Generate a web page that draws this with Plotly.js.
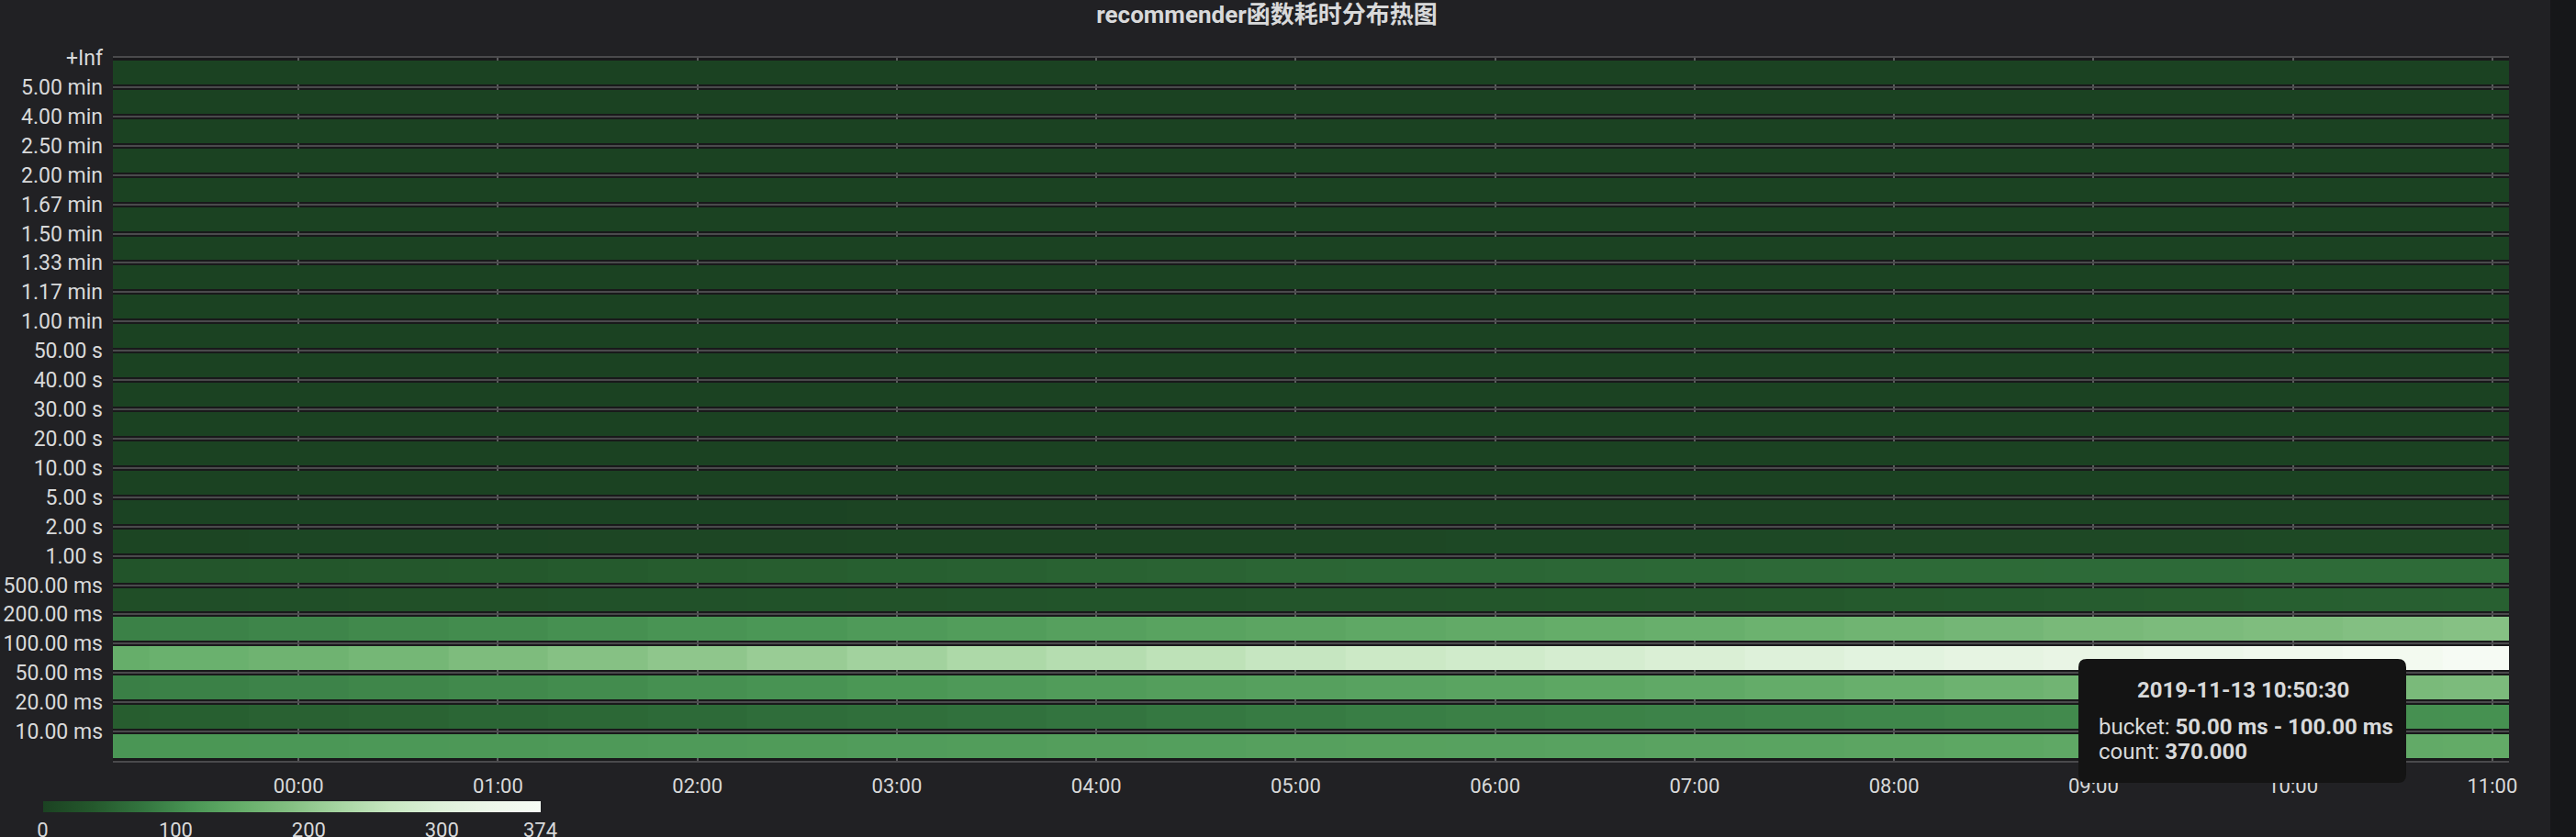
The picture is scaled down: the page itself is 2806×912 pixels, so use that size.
<!DOCTYPE html>
<html>
<head>
<meta charset="utf-8">
<script src="https://cdn.plot.ly/plotly-3.0.1.min.js"></script>
<style>
  html, body { margin: 0; padding: 0; background: #212124; }
  #chart { width: 2806px; height: 912px; }
</style>
</head>
<body>
<div id="chart"></div>
<script>
// ---------------- DATA ----------------
const chartTitle = 'recommender函数耗时分布热图';

// column times (30-minute buckets)
const times = [
  '2019-11-12 23:00', '2019-11-12 23:30',
  '2019-11-13 00:00', '2019-11-13 00:30', '2019-11-13 01:00', '2019-11-13 01:30',
  '2019-11-13 02:00', '2019-11-13 02:30', '2019-11-13 03:00', '2019-11-13 03:30',
  '2019-11-13 04:00', '2019-11-13 04:30', '2019-11-13 05:00', '2019-11-13 05:30',
  '2019-11-13 06:00', '2019-11-13 06:30', '2019-11-13 07:00', '2019-11-13 07:30',
  '2019-11-13 08:00', '2019-11-13 08:30', '2019-11-13 09:00', '2019-11-13 09:30',
  '2019-11-13 10:00', '2019-11-13 10:30', '2019-11-13 11:00'
];

// bucket upper-bound labels, bottom to top
const bucketLabels = [
  '10.00 ms', '20.00 ms', '50.00 ms', '100.00 ms', '200.00 ms', '500.00 ms',
  '1.00 s', '2.00 s', '5.00 s', '10.00 s', '20.00 s', '30.00 s', '40.00 s', '50.00 s',
  '1.00 min', '1.17 min', '1.33 min', '1.50 min', '1.67 min', '2.00 min', '2.50 min',
  '4.00 min', '5.00 min', '+Inf'
];

// counts per bucket (bottom to top), one value per time column
const cnt_0_10ms    = [112,113,114,115,116,117,119,120,122,123,125,126,128,129,130,131,133,134,136,138,140,141,143,144,145];
const cnt_10_20ms   = [44,46,49,52,55,58,61,64,67,70,74,78,82,85,87,89,91,93,95,97,99,101,103,105,106];
const cnt_20_50ms   = [86,88,91,94,97,101,105,109,113,117,121,125,128,131,134,138,142,147,152,158,163,167,171,174,176];
const cnt_50_100ms  = [150,155,160,168,178,188,198,208,218,230,240,250,260,268,276,284,292,300,310,318,326,336,346,358,370];
const cnt_100_200ms = [88,90,93,97,101,105,110,114,119,123,128,132,136,140,144,148,152,157,162,167,172,176,180,185,188];
const cnt_200_500ms = [20,21,22,23,24,25,26,27,28,29,30,31,32,33,34,35,36,38,40,41,43,44,46,47,48];
const cnt_500ms_1s  = [30,32,34,36,38,40,42,44,46,48,50,52,54,55,56,57,58,59,60,60,61,61,62,62,62];
const cnt_1s_2s     = [5,5,6,6,6,7,7,7,8,8,8,9,9,9,10,10,10,10,11,11,11,11,12,12,12];
const cnt_2s_5s     = [2,2,2,2,2,2,2,2,3,3,3,3,3,3,3,3,3,3,3,3,3,3,3,3,3];
const cnt_5s_10s    = [0,0,0,0,0,0,0,0,0,0,0,0,0,0,0,0,0,0,0,0,0,0,0,0,0];
const cnt_10s_20s   = [0,0,0,0,0,0,0,0,0,0,0,0,0,0,0,0,0,0,0,0,0,0,0,0,0];
const cnt_20s_30s   = [0,0,0,0,0,0,0,0,0,0,0,0,0,0,0,0,0,0,0,0,0,0,0,0,0];
const cnt_30s_40s   = [0,0,0,0,0,0,0,0,0,0,0,0,0,0,0,0,0,0,0,0,0,0,0,0,0];
const cnt_40s_50s   = [0,0,0,0,0,0,0,0,0,0,0,0,0,0,0,0,0,0,0,0,0,0,0,0,0];
const cnt_50s_1m    = [0,0,0,0,0,0,0,0,0,0,0,0,0,0,0,0,0,0,0,0,0,0,0,0,0];
const cnt_1m_117m   = [0,0,0,0,0,0,0,0,0,0,0,0,0,0,0,0,0,0,0,0,0,0,0,0,0];
const cnt_117m_133m = [0,0,0,0,0,0,0,0,0,0,0,0,0,0,0,0,0,0,0,0,0,0,0,0,0];
const cnt_133m_150m = [0,0,0,0,0,0,0,0,0,0,0,0,0,0,0,0,0,0,0,0,0,0,0,0,0];
const cnt_150m_167m = [0,0,0,0,0,0,0,0,0,0,0,0,0,0,0,0,0,0,0,0,0,0,0,0,0];
const cnt_167m_2m   = [0,0,0,0,0,0,0,0,0,0,0,0,0,0,0,0,0,0,0,0,0,0,0,0,0];
const cnt_2m_250m   = [0,0,0,0,0,0,0,0,0,0,0,0,0,0,0,0,0,0,0,0,0,0,0,0,0];
const cnt_250m_4m   = [0,0,0,0,0,0,0,0,0,0,0,0,0,0,0,0,0,0,0,0,0,0,0,0,0];
const cnt_4m_5m     = [0,0,0,0,0,0,0,0,0,0,0,0,0,0,0,0,0,0,0,0,0,0,0,0,0];
const cnt_5m_inf    = [0,0,0,0,0,0,0,0,0,0,0,0,0,0,0,0,0,0,0,0,0,0,0,0,0];

const hourTicks = [
  '2019-11-13 00:00', '2019-11-13 01:00', '2019-11-13 02:00', '2019-11-13 03:00',
  '2019-11-13 04:00', '2019-11-13 05:00', '2019-11-13 06:00', '2019-11-13 07:00',
  '2019-11-13 08:00', '2019-11-13 09:00', '2019-11-13 10:00', '2019-11-13 11:00'
];
const colorTicks = [0, 100, 200, 300, 374];
const countMax = 374;

const tipTime = '2019-11-13 10:50:30';
const tipBucket = '50.00 ms - 100.00 ms';
const tipCount = '370.000';

// ---------------- BUILD ----------------
const rows = [
  cnt_0_10ms, cnt_10_20ms, cnt_20_50ms, cnt_50_100ms, cnt_100_200ms, cnt_200_500ms,
  cnt_500ms_1s, cnt_1s_2s, cnt_2s_5s, cnt_5s_10s, cnt_10s_20s, cnt_20s_30s, cnt_30s_40s,
  cnt_40s_50s, cnt_50s_1m, cnt_1m_117m, cnt_117m_133m, cnt_133m_150m, cnt_150m_167m,
  cnt_167m_2m, cnt_2m_250m, cnt_250m_4m, cnt_4m_5m, cnt_5m_inf
];
const yCenters = rows.map((r, i) => i + 0.5);

const W = 2806, H = 912;
const M = { l: 123, r: 73, t: 63, b: 83 };
const PW = W - M.l - M.r, PH = H - M.t - M.b;
const fx = px => (px - M.l) / PW;
const fy = py => (H - M.b - py) / PH;

function roundRectPath(x0, y0, x1, y1, r) {
  const p = (x, y) => fx(x).toFixed(6) + ',' + fy(y).toFixed(6);
  return 'M' + p(x0 + r, y0) + ' L' + p(x1 - r, y0) + ' Q' + p(x1, y0) + ' ' + p(x1, y0 + r) +
    ' L' + p(x1, y1 - r) + ' Q' + p(x1, y1) + ' ' + p(x1 - r, y1) +
    ' L' + p(x0 + r, y1) + ' Q' + p(x0, y1) + ' ' + p(x0, y1 - r) +
    ' L' + p(x0, y0 + r) + ' Q' + p(x0, y0) + ' ' + p(x0 + r, y0) + ' Z';
}

const textColor = '#d8d9da';
const fontFam = 'Roboto, "Noto Sans CJK SC", sans-serif';

const colorscale = [
  [0.0, '#1b4222'], [0.1, '#24582c'], [0.2, '#33753f'], [0.3, '#4a9655'],
  [0.4, '#66ae6a'], [0.5, '#85c083'], [0.6, '#a8d6a3'], [0.7, '#c8e7c2'],
  [0.8, '#def1da'], [0.9, '#edf7ea'], [1.0, '#f7fcf5']
];

const trace = {
  type: 'heatmap',
  x: times,
  y: yCenters,
  z: rows,
  zmin: 0,
  zmax: countMax,
  colorscale: colorscale,
  ygap: 6,
  hoverinfo: 'skip',
  colorbar: {
    orientation: 'h',
    xref: 'container', yref: 'container',
    x: 50 / W, xanchor: 'left',
    y: 1 - 873 / H, yanchor: 'top',
    len: 542, lenmode: 'pixels',
    thickness: 12,
    xpad: 0, ypad: 0,
    outlinewidth: 0,
    ticks: '',
    tickvals: colorTicks,
    ticktext: colorTicks.map(String),
    tickfont: { family: fontFam, size: 22, color: textColor }
  }
};

const layout = {
  width: W, height: H,
  margin: M,
  paper_bgcolor: '#212124',
  plot_bgcolor: '#19191b',
  showlegend: false,
  title: {
    text: '<b>' + chartTitle + '</b>',
    xref: 'container', yref: 'container',
    x: 1380 / W, xanchor: 'center',
    y: 1 - 16 / H, yanchor: 'middle',
    font: { family: fontFam, size: 26, color: textColor }
  },
  xaxis: {
    type: 'date',
    range: ['2019-11-12 23:04:10', '2019-11-13 11:05:00'],
    tickvals: hourTicks,
    tickformat: '%H:%M',
    ticks: '',
    ticklabelstandoff: 7,
    showgrid: true, gridcolor: '#5c5c5e', gridwidth: 2,
    showline: true, mirror: true, linecolor: '#4a4a4c', linewidth: 2,
    zeroline: false,
    tickfont: { family: fontFam, size: 22, color: textColor }
  },
  yaxis: {
    range: [0, 24],
    tickvals: bucketLabels.map((l, i) => i + 1),
    ticktext: bucketLabels,
    ticks: '',
    ticklabelstandoff: 10,
    showgrid: true, gridcolor: '#4a4a4c', gridwidth: 2,
    zeroline: false, showline: false,
    tickfont: { family: fontFam, size: 23, color: textColor }
  },
  shapes: [
    { type: 'rect', xref: 'paper', yref: 'paper', layer: 'below',
      x0: fx(2778), x1: fx(2830), y0: fy(940), y1: fy(-20),
      fillcolor: '#161719', line: { width: 0 } },
    { type: 'path', xref: 'paper', yref: 'paper', layer: 'above',
      path: roundRectPath(2264, 718, 2621, 853, 9),
      fillcolor: '#141414', line: { width: 0 } }
  ],
  annotations: [
    { xref: 'paper', yref: 'paper', x: fx(2443), y: fy(752), xanchor: 'center', yanchor: 'middle',
      showarrow: false, text: '<b>' + tipTime + '</b>',
      font: { family: fontFam, size: 24, color: textColor } },
    { xref: 'paper', yref: 'paper', x: fx(2284), y: fy(792), xanchor: 'left', yanchor: 'middle',
      showarrow: false, text: 'bucket: <b>' + tipBucket + '</b>',
      font: { family: fontFam, size: 24, color: textColor } },
    { xref: 'paper', yref: 'paper', x: fx(2284), y: fy(819), xanchor: 'left', yanchor: 'middle',
      showarrow: false, text: 'count: <b>' + tipCount + '</b>',
      font: { family: fontFam, size: 24, color: textColor } }
  ]
};

Plotly.newPlot('chart', [trace], layout, { staticPlot: true, displayModeBar: false });
</script>
</body>
</html>
